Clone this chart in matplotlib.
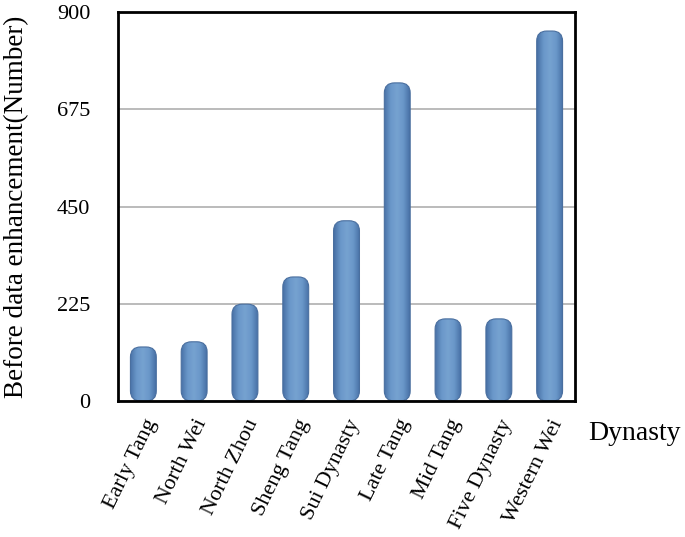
import numpy as np
import matplotlib.pyplot as plt
from matplotlib.patches import FancyBboxPatch
from matplotlib.colors import LinearSegmentedColormap

# ── Data ──────────────────────────────────────────────────────────────────────
dynasties = ["Early Tang", "North Wei", "North Zhou", "Sheng Tang", "Sui Dynasty",
             "Late Tang", "Mid Tang", "Five Dynasty", "Western Wei"]
counts = [125, 137, 224, 287, 417, 736, 190, 190, 856]
yticks = [0, 225, 450, 675, 900]

plt.rcParams.update({
    "font.family": "Liberation Serif",
    "font.size": 15,
})

W, H = 685, 537
fig = plt.figure(figsize=(W / 100, H / 100), dpi=100)
ax = fig.add_axes([118 / W, 1 - 401 / H, 457 / W, 389 / H])

x = np.arange(len(dynasties))
bars = ax.bar(x, counts, width=0.51, color="none", edgecolor="none")

ax.set_xlim(-0.5, len(dynasties) - 0.5)
ax.set_ylim(0, 900)

# bar gradient: darker edges, lighter middle
cmap = LinearSegmentedColormap.from_list(
    "bar", ["#4871a6", "#6a97c9", "#76a2d0", "#6a97c9", "#4871a6"])
grad = np.linspace(0, 1, 64).reshape(1, -1)

rx = 0.2
aspect = (900 / 389) / (len(dynasties) / 457)   # y-units per x-unit on screen
for b in bars:
    bx, bw, bh = b.get_x(), b.get_width(), b.get_height()
    patch = FancyBboxPatch((bx, 0), bw, bh,
                           boxstyle=f"round,pad=0,rounding_size={rx}",
                           mutation_aspect=aspect,
                           facecolor="none", edgecolor="#4a6f9f", linewidth=0.8,
                           zorder=3)
    ax.add_patch(patch)
    im = ax.imshow(grad, cmap=cmap, aspect="auto",
                   extent=(bx, bx + bw, 0, bh), zorder=2)
    im.set_clip_path(patch)

ax.set_xlim(-0.5, len(dynasties) - 0.5)
ax.set_ylim(0, 900)

# grid
ax.set_yticks(yticks)
ax.yaxis.grid(True, color="#a8a8a8", linewidth=1.1, zorder=0)
ax.set_axisbelow(True)
ax.tick_params(axis="y", length=0, pad=20, labelsize=16)
ax.tick_params(axis="x", length=0, pad=11)

ax.set_xticks(x)
ax.set_xticklabels(dynasties, rotation=64, ha="right", va="top",
                   rotation_mode="anchor", fontsize=16)

for s in ax.spines.values():
    s.set_linewidth(2)
    s.set_color("black")
    s.set_zorder(5)

ax.set_ylabel("Before data enhancement(Number)", fontsize=19.5)
ax.yaxis.set_label_coords(-(118 - 29) / 457, 0.5)

fig.text(588 / W, 1 - 433 / H, "Dynasty", fontsize=20, ha="left", va="center")

fig.savefig("out.png", dpi=100)
